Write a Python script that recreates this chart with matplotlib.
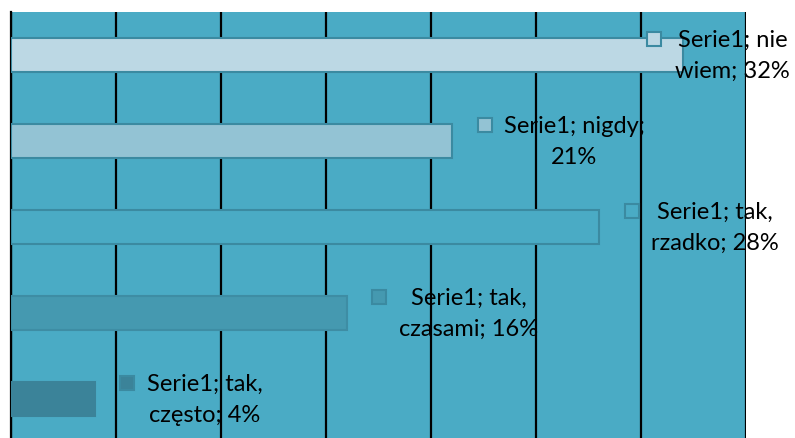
import matplotlib.pyplot as plt
from matplotlib.transforms import offset_copy

# survey answers, top to bottom
categories = ["nie wiem", "nigdy", "tak, rzadko", "tak, czasami", "tak, często"]
values = [32, 21, 28, 16, 4]
label_lines = [
    "Serie1; nie\nwiem; 32%",
    "Serie1; nigdy;\n21%",
    "Serie1; tak,\nrzadko; 28%",
    "Serie1; tak,\nczasami; 16%",
    "Serie1; tak,\nczęsto; 4%",
]
bar_colors = ["#bcd8e4", "#93c3d4", "#4aabc5", "#4599b0", "#3b8399"]
edge_colors = ["#3b8aa1", "#3b8aa1", "#3b8aa1", "#3e8da4", "#3b8399"]
BG = "#4aabc5"

plt.rcParams["font.family"] = ["Lato", "DejaVu Sans"]

fig = plt.figure(figsize=(7.95, 4.39), dpi=100)
ax = fig.add_axes([11 / 795, -4 / 439, 735 / 795, 430 / 439])
ax.set_facecolor(BG)

y = list(range(len(categories)))
ax.barh(y, values, height=0.4, color=bar_colors, edgecolor=edge_colors,
        linewidth=1.5, zorder=3)

ax.set_xlim(0, 35)
ax.set_ylim(len(categories) - 0.5, -0.5)
ax.set_xticks(range(0, 36, 5))
ax.set_yticks([])
ax.tick_params(axis="x", length=0, labelbottom=False)
ax.grid(axis="x", color="black", linewidth=1.6, zorder=1)
for side in ["top", "bottom", "right"]:
    ax.spines[side].set_visible(False)
ax.spines["left"].set_color("black")
ax.spines["left"].set_linewidth(1.6)

# data labels: small colour key plus two-line text to the right of each bar
key_dx = [-29, 33, 33, 32, 32]
text_dx = [-8, 52, 52, 52, 52]
for i, (v, txt) in enumerate(zip(values, label_lines)):
    key_tr = offset_copy(ax.transData, fig=fig, x=key_dx[i], y=16, units="dots")
    ax.plot([v], [i], marker="s", markersize=10, markerfacecolor=bar_colors[i],
            markeredgecolor="#3b8aa1", markeredgewidth=1.5,
            transform=key_tr, clip_on=False, zorder=5)
    txt_tr = offset_copy(ax.transData, fig=fig, x=text_dx[i], y=0, units="dots")
    ax.text(v, i, txt, transform=txt_tr, ha="left", va="center",
            multialignment="center", fontsize=17, linespacing=1.55,
            color="black", clip_on=False, zorder=6)

fig.savefig("out.png", dpi=100)
